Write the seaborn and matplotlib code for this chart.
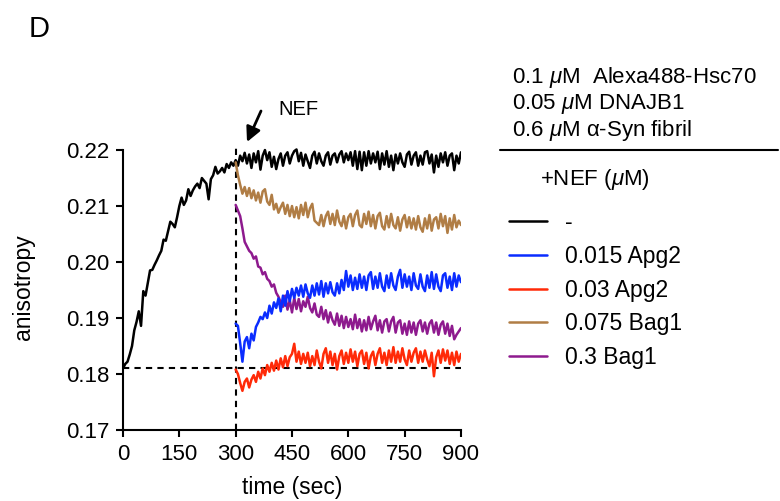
import numpy as np
import pandas as pd
import matplotlib
matplotlib.use("Agg")
import matplotlib.pyplot as plt
from matplotlib.lines import Line2D
import seaborn as sns

# ---------------- data ----------------
nef_time = 300
baseline = 0.181

black_pre = [0.1810, 0.1818, 0.1822, 0.1835, 0.1850, 0.1878, 0.1893, 0.1912, 0.1886, 0.1948,
             0.1940, 0.1962, 0.1985, 0.1986, 0.1995, 0.2003, 0.2012, 0.2020, 0.2040, 0.2038,
             0.2055, 0.2072, 0.2068, 0.2062, 0.2080, 0.2100, 0.2115, 0.2102, 0.2110, 0.2130,
             0.2118, 0.2128, 0.2135, 0.2140, 0.2132, 0.2150, 0.2145, 0.2140, 0.2112, 0.2148,
             0.2155, 0.2170, 0.2158, 0.2162, 0.2168, 0.2160, 0.2175, 0.2168, 0.2178, 0.2172,
             0.2182]

black_post = [0.2172, 0.2190, 0.2180, 0.2195, 0.2176, 0.2192, 0.2168, 0.2194, 0.2178, 0.2198,
              0.2165, 0.2190, 0.2200, 0.2182, 0.2196, 0.2170, 0.2188, 0.2166, 0.2184, 0.2194,
              0.2172, 0.2190, 0.2196, 0.2176, 0.2190, 0.2198, 0.2201, 0.2180, 0.2195, 0.2172,
              0.2192, 0.2180, 0.2168, 0.2190, 0.2197, 0.2176, 0.2194, 0.2180, 0.2172, 0.2190,
              0.2196, 0.2174, 0.2190, 0.2194, 0.2178, 0.2192, 0.2198, 0.2178, 0.2194, 0.2182,
              0.2196, 0.2172, 0.2198, 0.2166, 0.2197, 0.2164, 0.2196, 0.2172, 0.2198, 0.2176,
              0.2194, 0.2178, 0.2197, 0.2166, 0.2194, 0.2174, 0.2198, 0.2170, 0.2190, 0.2164,
              0.2192, 0.2176, 0.2194, 0.2178, 0.2170, 0.2192, 0.2197, 0.2174, 0.2190, 0.2196,
              0.2172, 0.2190, 0.2174, 0.2196, 0.2198, 0.2176, 0.2192, 0.2160, 0.2190, 0.2170,
              0.2194, 0.2178, 0.2196, 0.2172, 0.2190, 0.2194, 0.2164, 0.2190, 0.2176, 0.2196]

brown = [0.2178, 0.2155, 0.2138, 0.2122, 0.2134, 0.2118, 0.2132, 0.2114, 0.2128, 0.2110,
         0.2124, 0.2106, 0.2126, 0.2130, 0.2108, 0.2102, 0.2120, 0.2094, 0.2104, 0.2088,
         0.2098, 0.2106, 0.2086, 0.2102, 0.2082, 0.2100, 0.2080, 0.2098, 0.2078, 0.2102,
         0.2084, 0.2106, 0.2080, 0.2096, 0.2104, 0.2074, 0.2070, 0.2066, 0.2084, 0.2064,
         0.2082, 0.2090, 0.2068, 0.2086, 0.2066, 0.2092, 0.2072, 0.2064, 0.2082, 0.2060,
         0.2080, 0.2086, 0.2064, 0.2084, 0.2092, 0.2066, 0.2062, 0.2086, 0.2068, 0.2090,
         0.2064, 0.2084, 0.2060, 0.2082, 0.2088, 0.2064, 0.2058, 0.2082, 0.2062, 0.2086,
         0.2066, 0.2060, 0.2080, 0.2056, 0.2076, 0.2084, 0.2062, 0.2080, 0.2060, 0.2078,
         0.2058, 0.2082, 0.2062, 0.2054, 0.2078, 0.2060, 0.2084, 0.2056, 0.2076, 0.2080,
         0.2060, 0.2086, 0.2064, 0.2082, 0.2052, 0.2078, 0.2058, 0.2084, 0.2062, 0.2074,
         0.2066]

purple = [0.2102, 0.2092, 0.2082, 0.2060, 0.2036, 0.2028, 0.2020, 0.2016, 0.2006, 0.2010,
          0.1992, 0.1990, 0.1978, 0.1982, 0.1970, 0.1966, 0.1956, 0.1960, 0.1945, 0.1938,
          0.1928, 0.1920, 0.1940, 0.1915, 0.1932, 0.1910, 0.1936, 0.1916, 0.1934, 0.1912,
          0.1930, 0.1920, 0.1938, 0.1918, 0.1910, 0.1926, 0.1906, 0.1902, 0.1920, 0.1898,
          0.1914, 0.1892, 0.1910, 0.1896, 0.1888, 0.1908, 0.1886, 0.1904, 0.1882, 0.1902,
          0.1884, 0.1898, 0.1880, 0.1906, 0.1882, 0.1898, 0.1876, 0.1896, 0.1878, 0.1902,
          0.1880, 0.1894, 0.1904, 0.1878, 0.1896, 0.1874, 0.1894, 0.1898, 0.1876, 0.1894,
          0.1902, 0.1874, 0.1892, 0.1896, 0.1872, 0.1890, 0.1870, 0.1894, 0.1874, 0.1892,
          0.1870, 0.1890, 0.1896, 0.1876, 0.1892, 0.1872, 0.1890, 0.1896, 0.1874, 0.1892,
          0.1870, 0.1888, 0.1894, 0.1872, 0.1890, 0.1868, 0.1886, 0.1862, 0.1870, 0.1876,
          0.1882]

blue = [0.1890, 0.1886, 0.1855, 0.1822, 0.1858, 0.1866, 0.1846, 0.1872, 0.1860, 0.1884,
        0.1892, 0.1902, 0.1898, 0.1910, 0.1900, 0.1922, 0.1908, 0.1928, 0.1918, 0.1935,
        0.1912, 0.1940, 0.1922, 0.1948, 0.1930, 0.1952, 0.1936, 0.1954, 0.1940, 0.1958,
        0.1938, 0.1960, 0.1944, 0.1936, 0.1958, 0.1940, 0.1962, 0.1942, 0.1966, 0.1938,
        0.1962, 0.1944, 0.1964, 0.1946, 0.1940, 0.1962, 0.1944, 0.1968, 0.1950, 0.1984,
        0.1956, 0.1976, 0.1950, 0.1972, 0.1952, 0.1978, 0.1954, 0.1974, 0.1950, 0.1976,
        0.1982, 0.1952, 0.1974, 0.1954, 0.1980, 0.1956, 0.1948, 0.1976, 0.1954, 0.1980,
        0.1958, 0.1950, 0.1974, 0.1986, 0.1954, 0.1978, 0.1956, 0.1974, 0.1950, 0.1980,
        0.1958, 0.1952, 0.1978, 0.1956, 0.1948, 0.1976, 0.1954, 0.1982, 0.1952, 0.1978,
        0.1956, 0.1948, 0.1976, 0.1980, 0.1954, 0.1974, 0.1950, 0.1980, 0.1956, 0.1976,
        0.1964]

red = [0.1808, 0.1800, 0.1784, 0.1770, 0.1786, 0.1792, 0.1776, 0.1790, 0.1798, 0.1786,
       0.1804, 0.1792, 0.1810, 0.1798, 0.1816, 0.1804, 0.1820, 0.1806, 0.1824, 0.1808,
       0.1828, 0.1812, 0.1832, 0.1814, 0.1830, 0.1836, 0.1854, 0.1822, 0.1840, 0.1818,
       0.1836, 0.1820, 0.1838, 0.1814, 0.1832, 0.1816, 0.1842, 0.1822, 0.1810, 0.1836,
       0.1846, 0.1820, 0.1840, 0.1816, 0.1836, 0.1808, 0.1832, 0.1842, 0.1818, 0.1838,
       0.1820, 0.1844, 0.1822, 0.1840, 0.1814, 0.1836, 0.1842, 0.1818, 0.1838, 0.1810,
       0.1832, 0.1840, 0.1816, 0.1836, 0.1846, 0.1820, 0.1838, 0.1816, 0.1842, 0.1822,
       0.1848, 0.1820, 0.1840, 0.1822, 0.1846, 0.1826, 0.1816, 0.1842, 0.1822, 0.1838,
       0.1846, 0.1820, 0.1840, 0.1822, 0.1842, 0.1826, 0.1814, 0.1838, 0.1796, 0.1830,
       0.1842, 0.1820, 0.1844, 0.1824, 0.1842, 0.1818, 0.1838, 0.1816, 0.1840, 0.1822,
       0.1836]

series_labels = ["-", "0.015 Apg2", "0.03 Apg2", "0.075 Bag1", "0.3 Bag1"]
series_colors = ["#000000", "#0a2cff", "#ff2a08", "#b07d45", "#8e1a8e"]
header_lines = [r"0.1 $\mu$M  Alexa488-Hsc70", r"0.05 $\mu$M DNAJB1", r"0.6 $\mu$M α-Syn fibril"]
legend_title = r"+NEF ($\mu$M)"
xticks = [0, 150, 300, 450, 600, 750, 900]
yticks = [0.17, 0.18, 0.19, 0.20, 0.21, 0.22]

# ---------------- build table ----------------
black = black_pre + black_post
t_black = np.linspace(0, 900, len(black))
frames = [pd.DataFrame({"time": t_black, "aniso": black, "cond": series_labels[0]})]
for lab, vals in zip(series_labels[1:], [blue, red, brown, purple]):
    frames.append(pd.DataFrame({"time": np.linspace(nef_time, 900, len(vals)),
                                "aniso": vals, "cond": lab}))
df = pd.concat(frames, ignore_index=True)

# ---------------- style ----------------
sns.set_theme(style="ticks")
plt.rcParams["font.family"] = ["Liberation Sans", "DejaVu Sans"]
plt.rcParams["mathtext.fontset"] = "custom"
plt.rcParams["mathtext.rm"] = "Liberation Sans"
plt.rcParams["mathtext.it"] = "Liberation Sans:italic"
plt.rcParams["text.color"] = "black"

fig = plt.figure(figsize=(7.8, 5.01), dpi=100)
ax = fig.add_axes([0.1577, 0.1417, 0.4333, 0.570])

palette = dict(zip(series_labels, series_colors))
draw_order = ["-", "0.075 Bag1", "0.3 Bag1", "0.015 Apg2", "0.03 Apg2"]
sns.lineplot(data=df, x="time", y="aniso", hue="cond", hue_order=draw_order,
             palette=palette, linewidth=1.8, legend=False, ax=ax, estimator=None,
             sort=False)

ax.hlines(baseline, 0, 900, colors="black", linestyles=(0, (3, 2.5)), linewidth=1.5, zorder=1)
ax.vlines(nef_time, 0.17, 0.2205, colors="black", linestyles=(0, (3, 2.5)), linewidth=1.5,
          zorder=1, clip_on=False)

ax.set_xlim(0, 900)
ax.set_ylim(0.17, 0.221)
ax.set_xticks(xticks)
ax.set_xticklabels([str(v) for v in xticks])
ax.set_yticks(yticks)
ax.set_yticklabels([f"{v:.2f}" for v in yticks])
for s in ["top", "right"]:
    ax.spines[s].set_visible(False)
ax.spines["left"].set_bounds(0.17, 0.22)
for s in ["left", "bottom"]:
    ax.spines[s].set_linewidth(1.5)
    ax.spines[s].set_color("black")
ax.tick_params(axis="both", length=5, width=1.5, color="black", labelsize=16, pad=5,
               labelcolor="black")
ax.set_xlabel("time (sec)", fontsize=16.5, labelpad=8, color="black")
ax.set_ylabel("anisotropy", fontsize=16.5, labelpad=22, color="black")

# Panel letter
fig.text(29 / 780, 1 - 37 / 501, "D", fontsize=21, color="black")

# NEF arrow
ax.annotate("", xy=(247, 501 - 142), xycoords="figure pixels",
            xytext=(261, 501 - 111), textcoords="figure pixels",
            arrowprops=dict(arrowstyle="-|>", lw=2, color="black", mutation_scale=22,
                            shrinkA=0, shrinkB=0))
fig.text(278 / 780, 1 - 115 / 501, "NEF", fontsize=14.5, color="black")

# Header text block
for i, line in enumerate(header_lines):
    fig.text(512 / 780, 1 - (83 + 26.5 * i) / 501, line, fontsize=16, color="black")
fig.add_artist(Line2D([500 / 780, 778 / 780], [1 - 150 / 501, 1 - 150 / 501],
                      color="black", lw=1.5))
fig.text(540 / 780, 1 - 185.5 / 501, legend_title, fontsize=16, color="black")

handles = [Line2D([], [], color=c, lw=1.8) for c in series_colors]
fig.legend(handles, series_labels, loc="upper left",
           bbox_to_anchor=(500 / 780, 1 - 202 / 501), frameon=False, fontsize=16.5,
           handlelength=1.67, handletextpad=0.77, labelspacing=0.47, borderaxespad=0,
           labelcolor="black")

fig.savefig("out.png", dpi=100)
